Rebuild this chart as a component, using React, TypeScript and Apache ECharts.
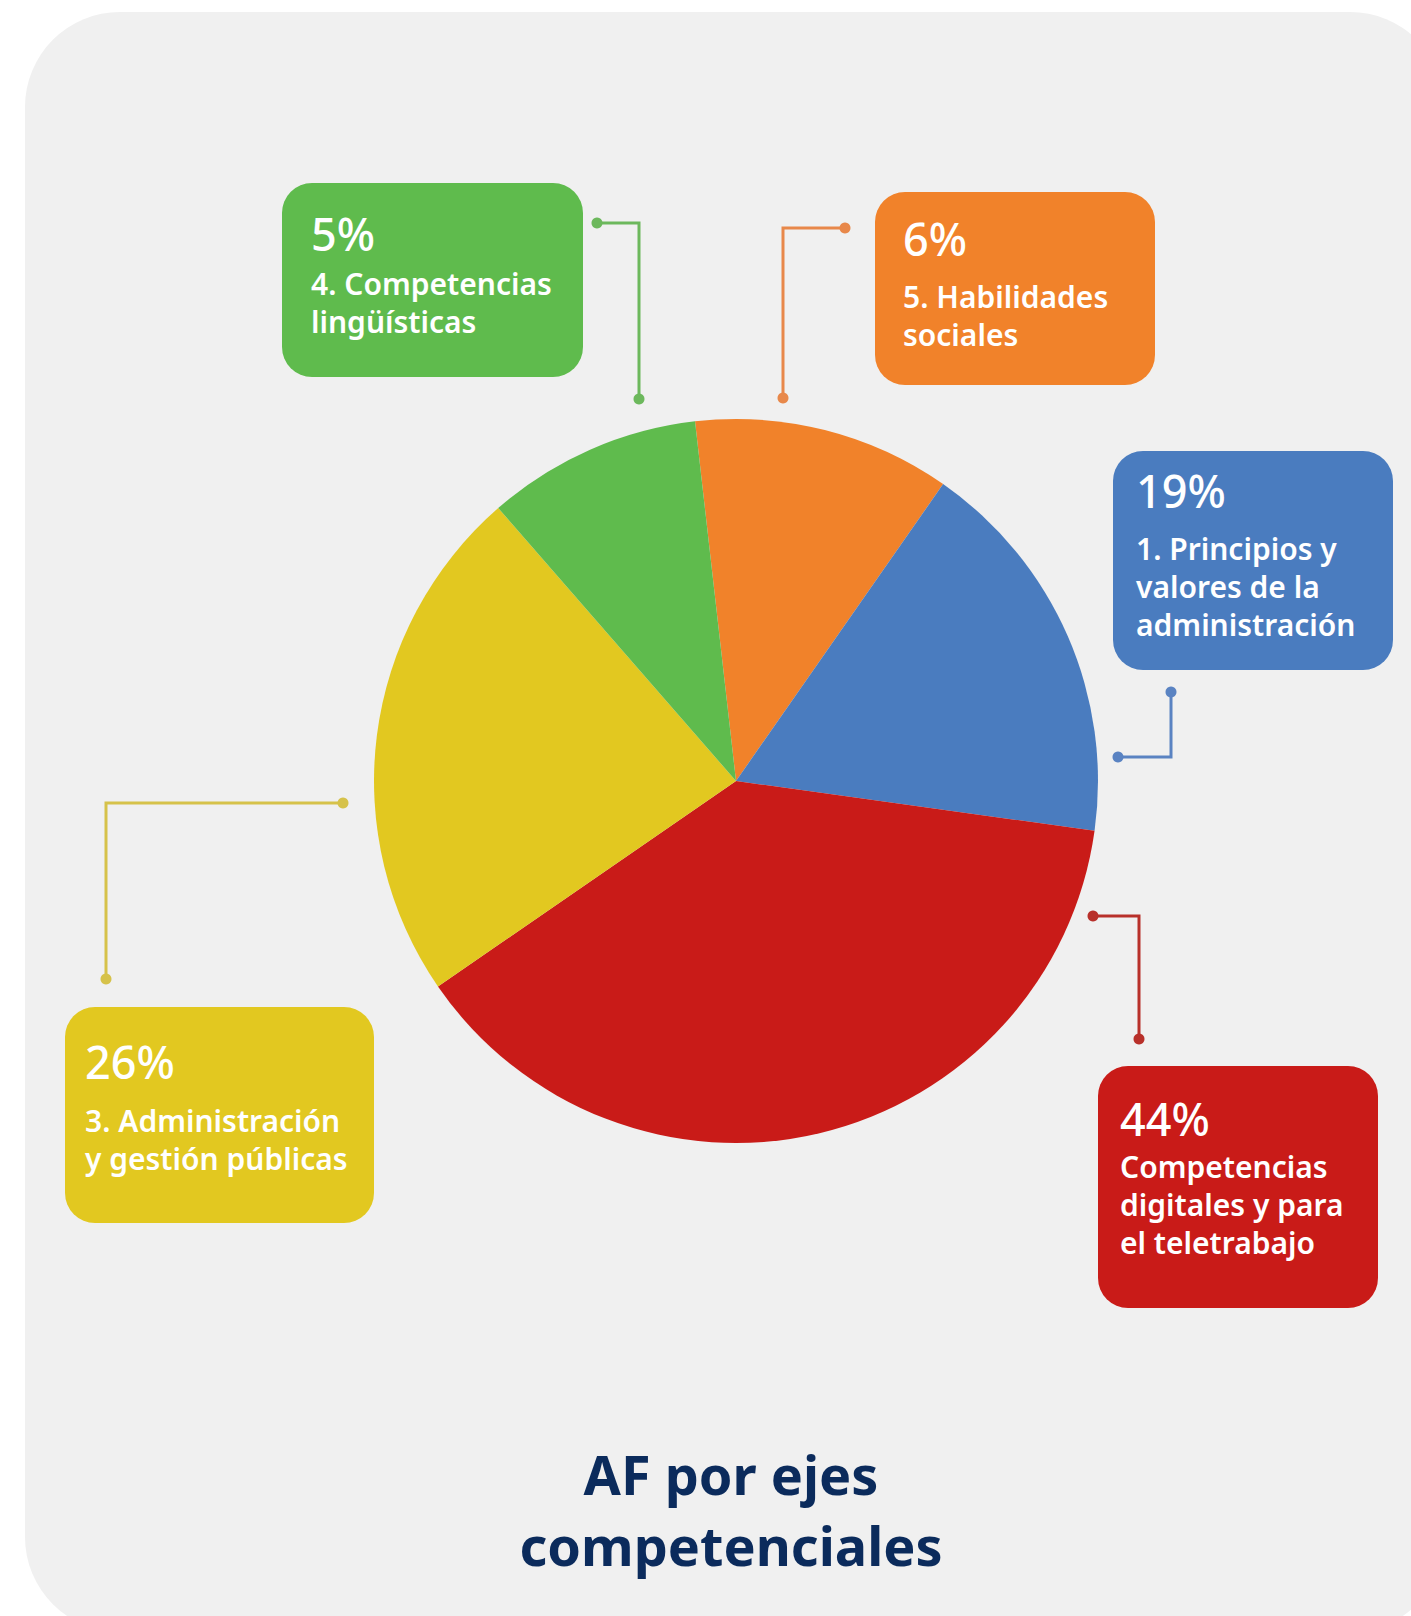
import React, { useEffect, useRef } from "react";
import * as echarts from "echarts";

// Slice names (clockwise from the top) and the visual share of each slice as drawn
const categories = [
  "5. Habilidades sociales",
  "1. Principios y valores de la administración",
  "Competencias digitales y para el teletrabajo",
  "3. Administración y gestión públicas",
  "4. Competencias lingüísticas",
];
const sliceValues = [11.5, 17.5, 38.2, 23.2, 9.6];
// Percent labels printed in the boxes
const percentLabels = ["6%", "19%", "44%", "26%", "5%"];
// Box label lines
const boxLines = [
  ["5. Habilidades", "sociales"],
  ["1. Principios y", "valores de la", "administración"],
  ["Competencias", "digitales y para", "el teletrabajo"],
  ["3. Administración", "y gestión públicas"],
  ["4. Competencias", "lingüísticas"],
];
const colors = ["#f1822a", "#4a7cbf", "#c91b18", "#e2c820", "#5fbb4d"];
const lineColors = ["#e8884a", "#5a83c2", "#b8302a", "#d6c24a", "#6cb85c"];
const titleLines = ["AF por ejes", "competenciales"];

// layout of boxes (x0, y0, x1, y1, pctX, pctBaseline, firstLineBaseline)
const boxLayout = [
  [875, 192, 1155, 385, 903, 255, 308],
  [1113, 451, 1393, 670, 1136, 507, 560],
  [1098, 1066, 1378, 1308, 1120, 1135, 1178],
  [65, 1007, 374, 1223, 85, 1078, 1132],
  [282, 183, 583, 377, 311, 250, 295],
];
const connectors = [
  [[845, 228], [783, 228], [783, 398]],
  [[1171, 692], [1171, 757], [1118, 757]],
  [[1093, 916], [1139, 916], [1139, 1039]],
  [[343, 803], [106, 803], [106, 979]],
  [[597, 223], [639, 223], [639, 399]],
];

const FONT = "'Noto Sans', 'Open Sans', sans-serif";

export default function App() {
  const ref = useRef<HTMLDivElement>(null);
  useEffect(() => {
    if (!ref.current) return;
    const chart = echarts.init(ref.current, null, { renderer: "svg" });
    const graphics: any[] = [];
    graphics.push({
      type: "rect",
      z: 0,
      shape: { x: 25, y: 12, width: 1420, height: 1620, r: 95 },
      style: { fill: "#f0f0f0" },
    });
    const labelSize = 30;
    const labelLH = 38;
    const pctSize = 45;
    boxLayout.forEach((b, i) => {
      const [x0, y0, x1, y1, px, pb, lb] = b;
      graphics.push({
        type: "rect",
        z: 10,
        shape: { x: x0, y: y0, width: x1 - x0, height: y1 - y0, r: 30 },
        style: { fill: colors[i] },
      });
      graphics.push({
        type: "text",
        z: 11,
        x: px,
        y: pb - 0.37 * pctSize,
        style: {
          text: percentLabels[i],
          fill: "#ffffff",
          font: `500 ${pctSize}px ${FONT}`,
          verticalAlign: "middle",
          align: "left",
        },
      });
      boxLines[i].forEach((ln, k) => {
        graphics.push({
          type: "text",
          z: 11,
          x: px,
          y: lb + k * labelLH - 0.37 * labelSize,
          style: {
            text: ln,
            fill: "#ffffff",
            font: `600 ${labelSize}px ${FONT}`,
            verticalAlign: "middle",
            align: "left",
          },
        });
      });
      const pts = connectors[i];
      graphics.push({
        type: "polyline",
        z: 10,
        shape: { points: pts },
        style: { stroke: lineColors[i], lineWidth: 3, fill: null },
      });
      [pts[0], pts[pts.length - 1]].forEach((p) => {
        graphics.push({
          type: "circle",
          z: 10,
          shape: { cx: p[0], cy: p[1], r: 5.5 },
          style: { fill: lineColors[i] },
        });
      });
    });
    const titleSize = 54;
    titleLines.forEach((t, k) => {
      graphics.push({
        type: "text",
        z: 11,
        x: 731,
        y: [1494, 1565][k] - 0.37 * titleSize,
        style: {
          text: t,
          fill: "#0b2b5c",
          font: `700 ${titleSize}px ${FONT}`,
          verticalAlign: "middle",
          align: "center",
        },
      });
    });

    chart.setOption({
      animation: false,
      backgroundColor: "#ffffff",
      graphic: { elements: graphics },
      series: [
        {
          type: "pie",
          z: 5,
          center: [736, 781],
          radius: 362,
          startAngle: 96.5,
          clockwise: true,
          label: { show: false },
          labelLine: { show: false },
          emphasis: { disabled: true },
          itemStyle: { borderWidth: 0 },
          data: categories.map((name, i) => ({
            name,
            value: sliceValues[i],
            itemStyle: { color: colors[i] },
          })),
        },
      ],
    });
    return () => chart.dispose();
  }, []);
  return (
    <div
      ref={ref}
      style={{ position: "absolute", left: 0, top: 0, width: 1411, height: 1616 }}
    />
  );
}
